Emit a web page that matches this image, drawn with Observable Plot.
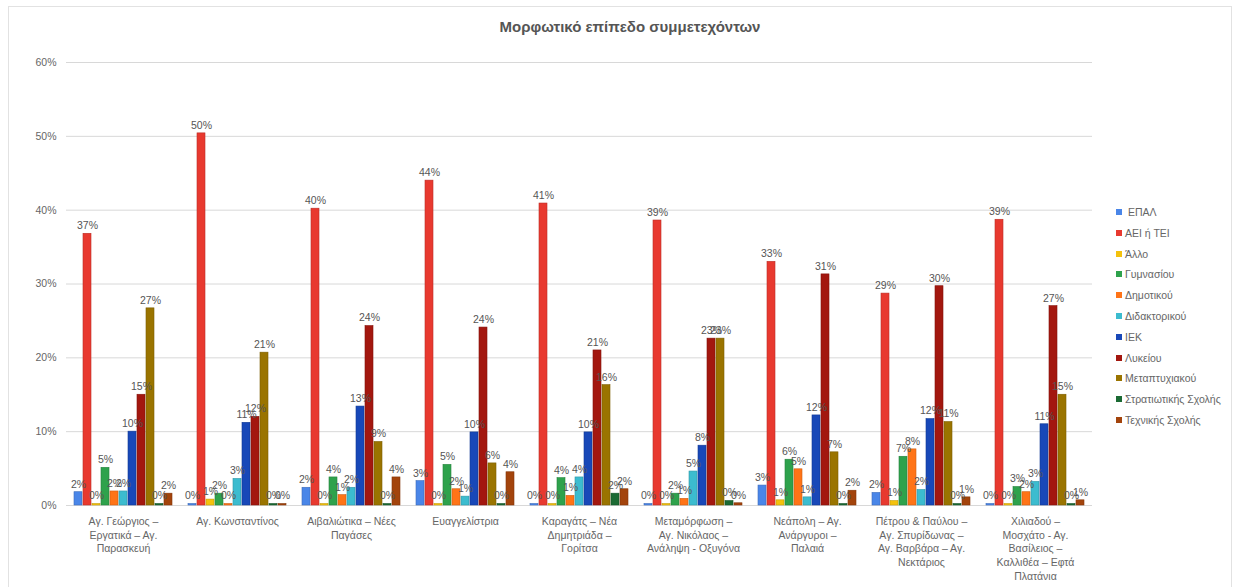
<!DOCTYPE html>
<html>
<head>
<meta charset="utf-8">
<script src="https://cdn.jsdelivr.net/npm/d3@7"></script>
<script src="https://cdn.jsdelivr.net/npm/@observablehq/plot@0.6"></script>
<style>
  body { margin: 0; background: #fff; font-family: Arial, "Liberation Sans", sans-serif; }
  #wrap { position: relative; width: 1234px; height: 587px; overflow: hidden; }
  #frame { position: absolute; left: 8px; top: 6px; width: 1224px; height: 590px; border: 1px solid #e2e2e2; box-sizing: border-box; }
  #title { position: absolute; top: 18px; left: 0; width: 1260px; text-align: center; font-size: 15px; font-weight: bold; color: #555; }
  #chart { position: absolute; left: 0; top: 45px; }
  #legend { position: absolute; left: 1116px; top: 204px; width: 118px; overflow: hidden; white-space: nowrap; font-size: 10.5px; color: #666; }
  #legend div { height: 20.8px; line-height: 16px; }
  #legend span.sw { display: inline-block; width: 6px; height: 6px; margin-right: 3px; vertical-align: 1px; }
</style>
</head>
<body>
<div id="wrap">
  <div id="frame"></div>
  <div id="title">Μορφωτικό επίπεδο συμμετεχόντων</div>
  <div id="chart"></div>
  <div id="legend"></div>
</div>
<script>
const groups = [
  "Αγ. Γεώργιος –\nΕργατικά – Αγ.\nΠαρασκευή",
  "Αγ. Κωνσταντίνος",
  "Αιβαλιώτικα – Νέες\nΠαγάσες",
  "Ευαγγελίστρια",
  "Καραγάτς – Νέα\nΔημητριάδα –\nΓορίτσα",
  "Μεταμόρφωση –\nΑγ. Νικόλαος –\nΑνάληψη - Οξυγόνα",
  "Νεάπολη – Αγ.\nΑνάργυροι –\nΠαλαιά",
  "Πέτρου & Παύλου –\nΑγ. Σπυρίδωνας –\nΑγ. Βαρβάρα – Αγ.\nΝεκτάριος",
  "Χιλιαδού –\nΜοσχάτο - Αγ.\nΒασίλειος –\nΚαλλιθέα – Εφτά\nΠλατάνια"
];
const series = ["ΕΠΑΛ","ΑΕΙ ή ΤΕΙ","Άλλο","Γυμνασίου","Δημοτικού","Διδακτορικού","ΙΕΚ","Λυκείου","Μεταπτυχιακού","Στρατιωτικής Σχολής","Τεχνικής Σχολής"];
const legendLabels = [" ΕΠΑΛ","ΑΕΙ ή ΤΕΙ","Άλλο","Γυμνασίου","Δημοτικού","Διδακτορικού","ΙΕΚ","Λυκείου","Μεταπτυχιακού","Στρατιωτικής Σχολής","Τεχνικής Σχολής"];
const colors = ["#4a86e8","#e8392f","#f4c20d","#2ea24c","#ff7417","#3cbccf","#1848b8","#a3170f","#9a7400","#1b6a33","#a3440c"];

// values in percent, one array per series, in group order
const epal        = [1.8, 0.2, 2.4, 3.3, 0.2, 0.2, 2.7, 1.7, 0.2];
const aei         = [36.8, 50.4, 40.2, 44.0, 40.9, 38.6, 33.0, 28.7, 38.7];
const allo        = [0.2, 0.8, 0.2, 0.2, 0.2, 0.2, 0.7, 0.6, 0.2];
const gymnasiou   = [5.1, 1.6, 3.8, 5.5, 3.7, 1.6, 6.2, 6.6, 2.5];
const dimotikou   = [1.9, 0.2, 1.4, 2.2, 1.3, 0.9, 4.9, 7.6, 1.8];
const didaktorikou= [1.9, 3.6, 2.4, 1.2, 3.8, 4.6, 1.1, 2.1, 3.2];
const iek         = [10.0, 11.2, 13.4, 9.9, 9.9, 8.1, 12.2, 11.7, 11.0];
const lykeiou     = [15.0, 12.0, 24.3, 24.1, 21.0, 22.6, 31.3, 29.7, 27.0];
const metaptyx    = [26.7, 20.7, 8.6, 5.7, 16.3, 22.6, 7.2, 11.3, 15.0];
const stratiot    = [0.2, 0.2, 0.2, 0.2, 1.6, 0.6, 0.2, 0.2, 0.2];
const technikis   = [1.6, 0.2, 3.8, 4.5, 2.2, 0.3, 2.0, 1.1, 0.7];
const valueLabels = [
  ["2%","0%","2%","3%","0%","0%","3%","2%","0%"],
  ["37%","50%","40%","44%","41%","39%","33%","29%","39%"],
  ["0%","1%","0%","0%","0%","0%","1%","1%","0%"],
  ["5%","2%","4%","5%","4%","2%","6%","7%","3%"],
  ["2%","0%","1%","2%","1%","1%","5%","8%","2%"],
  ["2%","3%","2%","1%","4%","5%","1%","2%","3%"],
  ["10%","11%","13%","10%","10%","8%","12%","12%","11%"],
  ["15%","12%","24%","24%","21%","23%","31%","30%","27%"],
  ["27%","21%","9%","6%","16%","23%","7%","11%","15%"],
  ["0%","0%","0%","0%","2%","0%","0%","0%","0%"],
  ["2%","0%","4%","4%","2%","0%","2%","1%","1%"]
];
const yTicks = [0, 10, 20, 30, 40, 50, 60];

const valuesBySeries = [epal, aei, allo, gymnasiou, dimotikou, didaktorikou, iek, lykeiou, metaptyx, stratiot, technikis];
const data = series.flatMap((s, si) => groups.map((g, gi) => ({
  group: g, series: s, value: valuesBySeries[si][gi], label: valueLabels[si][gi]
})));

const chart = Plot.plot({
  width: 1100,
  height: 542,
  marginLeft: 62,
  marginRight: 5,
  marginTop: 17,
  marginBottom: 82,
  style: { fontFamily: "Arial, 'Liberation Sans', sans-serif", background: "transparent" },
  fx: { domain: groups, padding: 0, label: null, axis: null },
  x: { domain: series, axis: null, paddingInner: 0.12, paddingOuter: 0.5 },
  y: { domain: [0, 60], label: null },
  color: { domain: series, range: colors },
  marks: [
    Plot.gridY(yTicks, { stroke: "#d8d8d8", strokeOpacity: 1 }),
    Plot.axisY(yTicks, { tickSize: 0, tickPadding: 10, tickFormat: d => d + "%", fill: "#666", fontSize: 10.5, label: null }),
    Plot.barY(data, { fx: "group", x: "series", y: "value", fill: "series", stroke: d => d3.color(colors[series.indexOf(d.series)]).darker(0.6).formatHex(), strokeWidth: 0.6 }),
    Plot.text(data, { fx: "group", x: "series", y: "value", text: "label", dy: -8, fill: "#555", fontSize: 10.5 }),
    Plot.axisFx({ anchor: "bottom", tickSize: 0, tickPadding: 10, fill: "#666", fontSize: 10.5, lineHeight: 1.3, lineWidth: Infinity, label: null })
  ]
});
document.getElementById("chart").appendChild(chart);

const leg = document.getElementById("legend");
legendLabels.forEach((name, i) => {
  const row = document.createElement("div");
  row.innerHTML = `<span class="sw" style="background:${colors[i]}"></span>${name}`;
  leg.appendChild(row);
});
</script>
</body>
</html>
